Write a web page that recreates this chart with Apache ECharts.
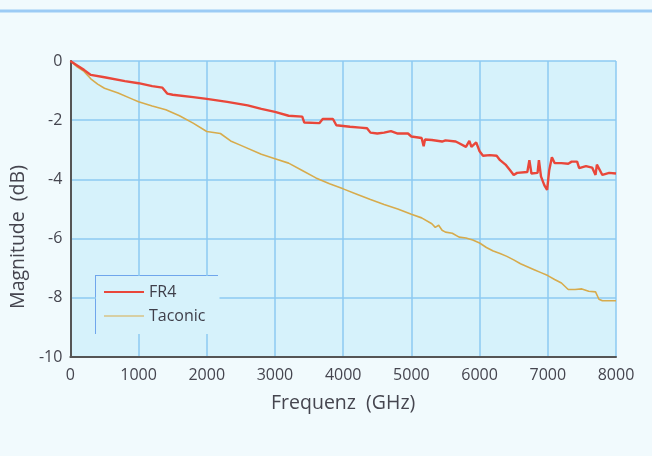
<!DOCTYPE html>
<html>
<head>
<meta charset="utf-8">
<script src="https://cdn.jsdelivr.net/npm/echarts@6/dist/echarts.min.js"></script>
<style>
  html, body { margin: 0; padding: 0; background: #f1fafd; }
  #chart { width: 652px; height: 456px; }
</style>
</head>
<body>
<div id="chart"></div>
<script>
const xTicks = [0, 1000, 2000, 3000, 4000, 5000, 6000, 7000, 8000]
const yTicks = [0, -2, -4, -6, -8, -10]

const fr4Freq = [0, 100, 200, 300, 500, 800, 1000, 1200, 1350, 1420, 1500, 1800, 2000, 2300, 2600, 2800,
  3000, 3200, 3400, 3430, 3650, 3700, 3850, 3900, 4100, 4250, 4350, 4400, 4500, 4600, 4700, 4800,
  4950, 5000, 5150, 5180, 5200, 5300, 5450, 5500, 5650, 5700, 5800, 5850, 5880, 5950, 6000, 6050,
  6150, 6250, 6300, 6380, 6450, 6500, 6550, 6700, 6730, 6760, 6850, 6870, 6900, 6950, 6990, 7020,
  7060, 7100, 7200, 7300, 7350, 7430, 7460, 7560, 7650, 7700, 7720, 7800, 7900, 8000]
const fr4Mag = [0, -0.15, -0.3, -0.47, -0.55, -0.68, -0.75, -0.85, -0.9, -1.1, -1.14, -1.22, -1.28, -1.38, -1.5, -1.62,
  -1.72, -1.85, -1.88, -2.08, -2.1, -1.96, -1.96, -2.17, -2.22, -2.25, -2.27, -2.42, -2.45, -2.42, -2.37, -2.45,
  -2.45, -2.55, -2.6, -2.88, -2.65, -2.67, -2.72, -2.68, -2.72, -2.78, -2.9, -2.7, -2.9, -2.75, -3.05, -3.2,
  -3.18, -3.2, -3.35, -3.5, -3.7, -3.85, -3.78, -3.75, -3.35, -3.8, -3.78, -3.35, -3.9, -4.2, -4.35, -3.7,
  -3.25, -3.45, -3.45, -3.47, -3.4, -3.4, -3.62, -3.55, -3.6, -3.85, -3.5, -3.85, -3.78, -3.8]

const tacFreq = [0, 100, 200, 300, 400, 500, 700, 900, 1000, 1200, 1400, 1600, 1800, 2000, 2200, 2350,
  2500, 2800, 3000, 3200, 3400, 3600, 3800, 4000, 4200, 4400, 4600, 4800, 5000, 5150, 5300, 5350,
  5400, 5450, 5500, 5600, 5700, 5800, 5900, 6000, 6100, 6200, 6300, 6400, 6500, 6600, 6700, 6800,
  6900, 7000, 7100, 7200, 7300, 7400, 7500, 7600, 7700, 7750, 7800, 8000]
const tacMag = [0, -0.2, -0.35, -0.6, -0.78, -0.92, -1.08, -1.28, -1.38, -1.52, -1.65, -1.85, -2.1, -2.38, -2.45, -2.7,
  -2.85, -3.15, -3.3, -3.45, -3.7, -3.95, -4.15, -4.32, -4.5, -4.68, -4.85, -5.0, -5.18, -5.3, -5.5, -5.62,
  -5.55, -5.72, -5.78, -5.82, -5.95, -5.98, -6.05, -6.15, -6.3, -6.42, -6.5, -6.6, -6.72, -6.85, -6.95, -7.05,
  -7.15, -7.25, -7.38, -7.5, -7.72, -7.72, -7.7, -7.78, -7.8, -8.05, -8.1, -8.1]

const pairs = (xs, ys) => xs.map((x, i) => [x, ys[i]])

const labelStyle = { color: '#45454f', fontSize: 16, fontFamily: 'Open Sans' }
const nameStyle = { color: '#45454f', fontSize: 19.5, fontFamily: 'Open Sans' }

const option = {
  animation: false,
  backgroundColor: '#f1fafd',
  grid: { left: 68, right: 36, top: 61, bottom: 99, show: true, backgroundColor: '#d6f2fb', borderWidth: 0 },
  xAxis: {
    type: 'value', min: xTicks[0], max: xTicks[xTicks.length - 1], interval: 1000,
    name: 'Frequenz  (GHz)', nameLocation: 'middle', nameGap: 36,
    nameTextStyle: nameStyle,
    axisLine: { onZero: false, lineStyle: { color: '#555', width: 2 } },
    axisTick: { show: false },
    axisLabel: Object.assign({ margin: 10, formatter: v => String(v) }, labelStyle),
    splitLine: { show: true, lineStyle: { color: '#8ccaf2', width: 1.5 } }
  },
  yAxis: {
    type: 'value', min: yTicks[yTicks.length - 1], max: yTicks[0], interval: 2,
    name: 'Magnitude  (dB)', nameLocation: 'middle', nameGap: 38,
    nameTextStyle: Object.assign({ padding: [0, 56, 0, 0] }, nameStyle),
    axisLine: { show: true, onZero: false, lineStyle: { color: '#555', width: 2 } },
    axisTick: { show: false },
    axisLabel: Object.assign({ margin: 8 }, labelStyle),
    splitLine: { show: true, lineStyle: { color: '#8ccaf2', width: 1.5 } }
  },
  legend: {
    orient: 'vertical', left: 96, top: 276,
    padding: [8, 14, 10, 8], itemGap: 8,
    itemWidth: 40, itemHeight: 10,
    backgroundColor: '#d6f2fb',
    textStyle: { color: '#3f3f4a', fontSize: 16, fontFamily: 'Open Sans' },
    data: [
      { name: 'FR4', icon: 'path://M0,4L40,4L40,6L0,6Z' },
      { name: 'Taconic', icon: 'path://M0,4.5L40,4.5L40,5.5L0,5.5Z' }
    ]
  },
  graphic: [
    { type: 'line', shape: { x1: 0, y1: 11, x2: 652, y2: 11 }, style: { stroke: '#9ccbf5', lineWidth: 3 } },
    { type: 'polyline', shape: { points: [[96, 334], [96, 276], [218, 276]] }, style: { stroke: '#6fa6ec', lineWidth: 2, fill: null } }
  ],
  series: [
    {
      name: 'Taconic', type: 'line', data: pairs(tacFreq, tacMag), showSymbol: false,
      lineStyle: { color: '#d7ab4c', width: 1.6 }, itemStyle: { color: '#d7ab4c' }
    },
    {
      name: 'FR4', type: 'line', data: pairs(fr4Freq, fr4Mag), showSymbol: false,
      lineStyle: { color: '#e9473a', width: 2.4 }, itemStyle: { color: '#e9473a' }
    }
  ]
}

const myChart = echarts.init(document.getElementById('chart'))
myChart.setOption(option)
</script>
</body>
</html>
